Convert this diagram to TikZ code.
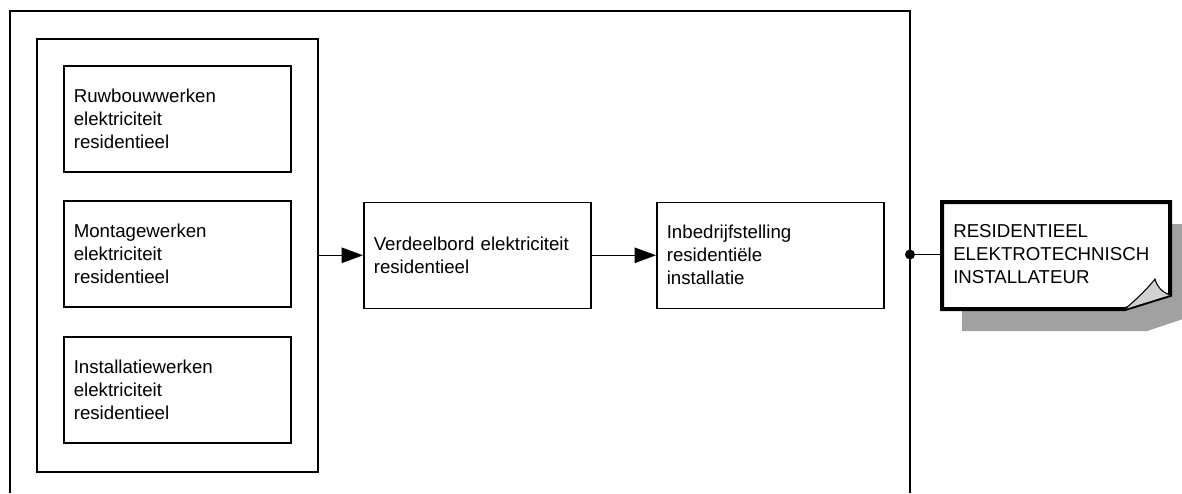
\documentclass[tikz,border=0pt]{standalone}
\usepackage{fontspec}
\setmainfont{Liberation Sans}
\usetikzlibrary{arrows.meta, positioning}

\begin{document}
\begin{tikzpicture}[x=0.75pt, y=-0.75pt,
    every node/.style={font=\fontsize{14}{17.25}\selectfont},
    taak/.style={draw, line width=1.2pt, align=left, text width=155.25pt,
        inner xsep=7.5pt, minimum height=79.5pt, anchor=north west},
    groep/.style={draw, line width=1.2pt, minimum width=210.75pt,
        minimum height=324.75pt, anchor=north west},
    pijl/.style={-{Triangle[length=16pt,width=11.5pt]}, line width=1.2pt}]
    \useasboundingbox (0,0) rectangle (1182,493);

    % kader rond het geheel, onderaan open
    \draw[line width=1.2pt] (10,493) -- (10,11) -- (910,11) -- (910,493);

    \node[groep] (groep) at (36,38) {};
    \node[taak] (ruwbouw) at (63,65) {Ruwbouwwerken\\elektriciteit\\residentieel};
    \node[taak, below=20.6pt of ruwbouw] (montage) {Montagewerken\\elektriciteit\\residentieel};
    \node[taak, below=21.3pt of montage] (installatie) {Installatiewerken\\elektriciteit\\residentieel};

    \node[taak, anchor=west, right=33.3pt of groep] (verdeelbord) {Verdeelbord elektriciteit\\residentieel};
    \node[taak, anchor=west, right=48.3pt of verdeelbord] (inbedrijf) {Inbedrijfstelling\\residenti\"ele\\installatie};

    \draw[pijl] (groep.east) -- (verdeelbord.west);
    \draw[pijl] (verdeelbord.east) -- (inbedrijf.west);

    % beroepsprofiel (notitie met schaduw en ezelsoor)
    \fill[black!37] (962,224) -- (1192,224) -- (1192,316) -- (1147,331) -- (962,331) -- cycle;
    \filldraw[fill=white, line width=3pt] (942,202) -- (1170,202) -- (1170,295)
        -- (1125,309) -- (942,309) -- cycle;
    \filldraw[fill=black!18, line width=0.8pt] (1125,309)
        .. controls (1138,298) and (1148,288) .. (1155,279)
        .. controls (1157,287) and (1162,292) .. (1170,295);
    \node[align=left, text width=154.5pt, inner xsep=8.25pt, minimum height=80.25pt,
        anchor=west] (beroep) at (942,254.5) {RESIDENTIEEL\\ELEKTROTECHNISCH\\INSTALLATEUR};

    \coordinate (knoop) at (910,254.5);
    \fill (knoop) circle (3.75pt);
    \draw[line width=1.2pt] (knoop) -- (beroep.west);

\end{tikzpicture}
\end{document}
